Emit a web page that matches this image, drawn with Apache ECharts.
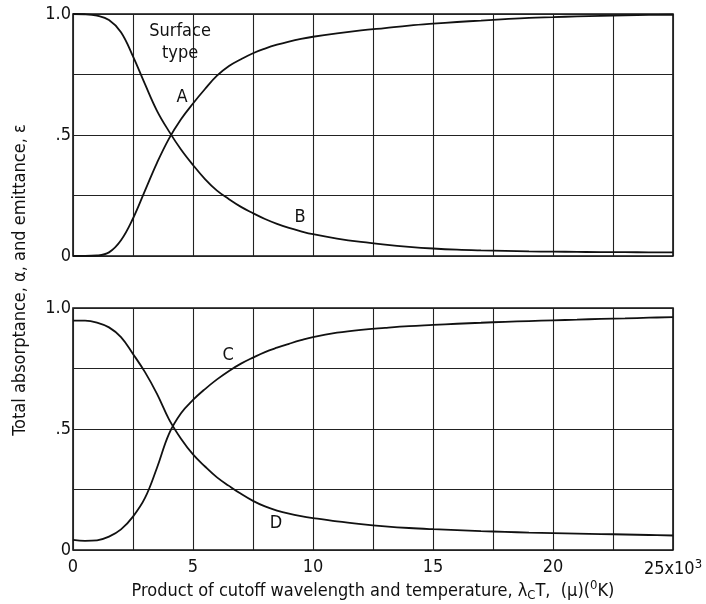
<!DOCTYPE html>
<html>
<head>
<meta charset="utf-8">
<script src="https://cdn.jsdelivr.net/npm/echarts@6/dist/echarts.min.js"></script>
<style>
html,body{margin:0;padding:0;background:#fff;}
#chart{width:706px;height:604px;}
</style>
</head>
<body>
<div id="chart"></div>
<script>
// x values (units of 10^3 micron-K)
const xVals = [0, 0.5, 1, 1.5, 2, 2.5, 3, 3.5, 4, 4.5, 5, 5.5, 6, 6.5, 7, 7.5, 8, 8.5, 9, 9.5, 10,
               11, 12, 13, 14, 15, 16, 17, 18, 19, 20, 21, 22, 23, 24, 25];
// Top panel
const curveA = [0, 0, 0.002, 0.015, 0.065, 0.155, 0.27, 0.385, 0.485, 0.565, 0.63, 0.69, 0.745, 0.785, 0.813, 0.838, 0.857, 0.873, 0.886, 0.897, 0.906,
                0.92, 0.932, 0.942, 0.952, 0.96, 0.967, 0.973, 0.979, 0.984, 0.987, 0.99, 0.992, 0.994, 0.996, 0.997];
const curveB = [1.0, 0.999, 0.993, 0.975, 0.925, 0.825, 0.71, 0.6, 0.515, 0.44, 0.376, 0.318, 0.27, 0.235, 0.203, 0.177, 0.153, 0.133, 0.116, 0.102, 0.09,
                0.072, 0.058, 0.047, 0.038, 0.031, 0.026, 0.023, 0.021, 0.019, 0.018, 0.017, 0.016, 0.016, 0.015, 0.015];
// Bottom panel
const curveC = [0.042, 0.038, 0.04, 0.055, 0.085, 0.138, 0.215, 0.34, 0.48, 0.565, 0.62, 0.665, 0.705, 0.74, 0.77, 0.795, 0.818, 0.836, 0.852, 0.867, 0.88,
                0.898, 0.91, 0.918, 0.925, 0.93, 0.935, 0.939, 0.943, 0.946, 0.949, 0.952, 0.955, 0.957, 0.96, 0.962];
const curveD = [0.948, 0.948, 0.94, 0.92, 0.88, 0.81, 0.735, 0.645, 0.54, 0.46, 0.395, 0.345, 0.3, 0.265, 0.232, 0.203, 0.18, 0.163, 0.15, 0.14, 0.132,
                0.118, 0.107, 0.098, 0.091, 0.086, 0.082, 0.078, 0.075, 0.072, 0.07, 0.068, 0.066, 0.064, 0.062, 0.06];
// tick labels
const yTickLabels = {0: '0', 0.5: '.5', 1: '1.0'};
const xTickLabels = {0: '0', 5: '5', 10: '10', 15: '15', 20: '20', 25: '25x10{sup|3}'};
// annotations (text, data coords, panel)
const annotations = [
  {text: 'Surface\ntype', x: 4.46, y: 0.885, panel: 0},
  {text: 'A', x: 4.54, y: 0.655, panel: 0},
  {text: 'B', x: 9.46, y: 0.16, panel: 0},
  {text: 'C', x: 6.46, y: 0.805, panel: 1},
  {text: 'D', x: 8.46, y: 0.112, panel: 1}
];

const FONT = "'Liberation Sans Narrow', 'DejaVu Sans Condensed', 'Noto Sans', sans-serif";
const INK = '#111';
const FS = 18;

function pairs(ys) { return xVals.map((x, i) => [x, ys[i]]); }

const chart = echarts.init(document.getElementById('chart'), null, {renderer: 'canvas'});

function xAxisCfg(idx, showLabels) {
  return {
    type: 'value', gridIndex: idx, min: 0, max: 25, interval: 2.5,
    axisLine: {show: false},
    axisTick: {show: false},
    splitLine: {show: true, lineStyle: {color: '#222', width: 1.1}},
    axisLabel: {
      show: showLabels, margin: 8, color: INK, fontFamily: FONT, fontSize: FS,
      formatter: v => (xTickLabels[v] !== undefined ? xTickLabels[v] : ''),
      rich: {sup: {fontSize: 13, fontFamily: FONT, color: INK, verticalAlign: 'bottom', padding: [0, 0, 10, 0]}}
    },
    name: showLabels ? 'Product of cutoff wavelength and temperature, λ{sub|C}T,  (μ)({sup|0}K)' : '',
    nameLocation: 'middle', nameGap: 25,
    nameTextStyle: {
      color: INK, fontFamily: FONT, fontSize: FS,
      rich: {
        sub: {fontSize: 13, fontFamily: FONT, color: INK, padding: [10, 0, 0, 0]},
        sup: {fontSize: 13, fontFamily: FONT, color: INK, padding: [0, 0, 10, 0]}
      }
    }
  };
}
function yAxisCfg(idx) {
  return {
    type: 'value', gridIndex: idx, min: 0, max: 1, interval: 0.25,
    axisLine: {show: false}, axisTick: {show: false},
    splitLine: {show: true, lineStyle: {color: '#222', width: 1.1}},
    axisLabel: {
      margin: 2, color: INK, fontFamily: FONT, fontSize: FS,
      formatter: v => (yTickLabels[v] !== undefined ? yTickLabels[v] : '')
    }
  };
}
function lineSeries(ys, idx, labels) {
  return {
    type: 'line', xAxisIndex: idx, yAxisIndex: idx, data: pairs(ys),
    smooth: 0.4, showSymbol: false, silent: true,
    lineStyle: {color: INK, width: 1.8},
    markPoint: labels ? {
      symbol: 'circle', symbolSize: 0, silent: true,
      data: labels.map(a => ({coord: [a.x, a.y], value: a.text,
        label: {show: true, position: 'inside', formatter: a.text, color: INK,
                fontFamily: FONT, fontSize: FS, lineHeight: 22, align: 'center'}}))
    } : undefined
  };
}

chart.setOption({
  animation: false,
  backgroundColor: '#fff',
  grid: [
    {left: 73, right: 33, top: 14, height: 242, show: true, borderColor: INK, borderWidth: 1.6, backgroundColor: 'transparent'},
    {left: 73, right: 33, top: 308, height: 242, show: true, borderColor: INK, borderWidth: 1.6, backgroundColor: 'transparent'}
  ],
  xAxis: [xAxisCfg(0, false), xAxisCfg(1, true)],
  yAxis: [yAxisCfg(0), yAxisCfg(1)],
  series: [
    lineSeries(curveA, 0, annotations.filter(a => a.panel === 0)),
    lineSeries(curveB, 0, null),
    lineSeries(curveC, 1, annotations.filter(a => a.panel === 1)),
    lineSeries(curveD, 1, null)
  ],
  graphic: [{
    type: 'text', x: 20, y: 280, rotation: Math.PI / 2,
    style: {text: 'Total absorptance, α, and emittance, ε', fill: INK, font: FS + 'px ' + FONT,
            textAlign: 'center', textVerticalAlign: 'middle'}
  }]
});
</script>
</body>
</html>
